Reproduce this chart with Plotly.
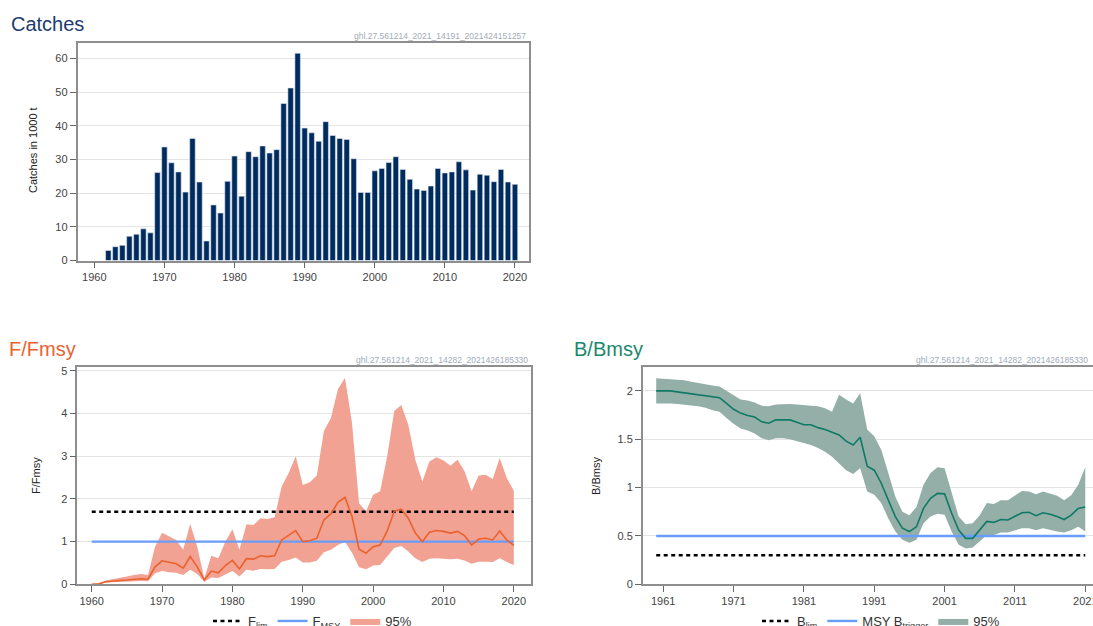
import plotly.graph_objects as go

W, H = 1093, 626

# ---------------- data ----------------
catch_years = list(range(1962, 2021))
catches = [3.0, 4.1, 4.5, 7.2, 7.8, 9.4, 8.2, 26.1, 33.7, 29.0, 26.3, 20.3, 36.2, 23.3,
           5.8, 16.5, 14.1, 23.5, 31.0, 19.1, 32.3, 30.8, 34.0, 31.9, 32.9, 46.6, 51.2,
           61.5, 39.3, 37.9, 35.4, 41.2, 37.1, 36.2, 35.9, 30.2, 20.2, 20.2, 26.6, 27.3,
           29.1, 30.8, 27.0, 24.1, 21.2, 20.8, 22.1, 27.3, 26.0, 26.3, 29.3, 26.9, 20.9,
           25.6, 25.3, 23.4, 27.0, 23.3, 22.6]

f_years = list(range(1960, 2021))
f_median = [0.0, 0.01, 0.06, 0.08, 0.09, 0.10, 0.12, 0.13, 0.12, 0.41,
            0.55, 0.51, 0.48, 0.38, 0.65, 0.41, 0.10, 0.31, 0.27, 0.44,
            0.56, 0.36, 0.60, 0.59, 0.67, 0.65, 0.67, 1.04, 1.16, 1.26,
            1.00, 1.02, 1.08, 1.51, 1.65, 1.92, 2.04, 1.59, 0.82, 0.73,
            0.88, 0.92, 1.25, 1.71, 1.76, 1.55, 1.20, 1.00, 1.22, 1.26,
            1.24, 1.20, 1.24, 1.14, 0.92, 1.06, 1.08, 1.04, 1.25, 1.04, 0.91]
f_upper = [0.0, 0.01, 0.09, 0.12, 0.14, 0.18, 0.22, 0.24, 0.22, 0.88,
           1.21, 1.12, 1.04, 0.81, 1.42, 0.88, 0.14, 0.67, 0.61, 1.00,
           1.29, 0.81, 1.41, 1.39, 1.55, 1.53, 1.57, 2.29, 2.61, 3.00,
           2.33, 2.39, 2.55, 3.59, 3.90, 4.57, 4.84, 3.78, 1.90, 1.71,
           2.10, 2.18, 3.00, 4.06, 4.20, 3.74, 2.92, 2.41, 2.88, 2.98,
           2.90, 2.78, 2.92, 2.65, 2.18, 2.55, 2.57, 2.47, 2.96, 2.49, 2.19]
f_lower = [0.0, 0.0, 0.04, 0.05, 0.055, 0.06, 0.07, 0.08, 0.07, 0.26,
           0.31, 0.28, 0.27, 0.22, 0.34, 0.24, 0.06, 0.16, 0.15, 0.23,
           0.31, 0.18, 0.34, 0.32, 0.36, 0.35, 0.36, 0.53, 0.57, 0.63,
           0.51, 0.51, 0.55, 0.75, 0.81, 0.92, 1.00, 0.74, 0.40, 0.35,
           0.44, 0.45, 0.65, 0.85, 0.90, 0.77, 0.61, 0.52, 0.60, 0.61,
           0.60, 0.59, 0.60, 0.56, 0.48, 0.53, 0.53, 0.52, 0.61, 0.52, 0.45]
f_lim = 1.7
f_msy = 1.0

b_years = list(range(1960, 2022))
b_median = [2.00, 2.00, 2.00, 1.99, 1.98, 1.975, 1.965, 1.95, 1.94, 1.93,
            1.87, 1.81, 1.77, 1.745, 1.73, 1.68, 1.665, 1.70, 1.70, 1.70,
            1.675, 1.65, 1.65, 1.62, 1.60, 1.57, 1.545, 1.48, 1.44, 1.52,
            1.22, 1.18, 1.045, 0.87, 0.70, 0.58, 0.545, 0.595, 0.785, 0.89,
            0.94, 0.935, 0.735, 0.56, 0.475, 0.475, 0.56, 0.65, 0.64, 0.67,
            0.665, 0.70, 0.74, 0.745, 0.71, 0.74, 0.725, 0.70, 0.67, 0.715,
            0.785, 0.80]
b_upper = [2.13, 2.125, 2.12, 2.115, 2.11, 2.095, 2.08, 2.07, 2.055, 2.045,
           2.00, 1.95, 1.91, 1.90, 1.88, 1.845, 1.84, 1.86, 1.865, 1.865,
           1.86, 1.85, 1.845, 1.84, 1.82, 1.785, 1.96, 1.91, 1.87, 1.975,
           1.60, 1.53, 1.39, 1.15, 0.905, 0.75, 0.715, 0.80, 1.03, 1.15,
           1.21, 1.20, 0.94, 0.70, 0.62, 0.63, 0.715, 0.84, 0.83, 0.87,
           0.87, 0.92, 0.965, 0.96, 0.93, 0.96, 0.935, 0.915, 0.87, 0.92,
           1.03, 1.21]
b_lower = [1.87, 1.87, 1.87, 1.865, 1.86, 1.85, 1.84, 1.825, 1.80, 1.785,
           1.72, 1.66, 1.61, 1.59, 1.56, 1.51, 1.49, 1.51, 1.51, 1.50,
           1.48, 1.46, 1.44, 1.41, 1.37, 1.32, 1.25, 1.18, 1.14, 1.20,
           0.96, 0.925, 0.84, 0.68, 0.545, 0.46, 0.43, 0.46, 0.63, 0.70,
           0.73, 0.72, 0.545, 0.41, 0.37, 0.38, 0.44, 0.51, 0.51, 0.535,
           0.535, 0.555, 0.58, 0.58, 0.56, 0.58, 0.56, 0.545, 0.535, 0.56,
           0.595, 0.545]
b_lim = 0.3
msy_btrigger = 0.5

catch_xticks = [1960, 1970, 1980, 1990, 2000, 2010, 2020]
catch_yticks = [0, 10, 20, 30, 40, 50, 60]
f_xticks = [1960, 1970, 1980, 1990, 2000, 2010, 2020]
f_yticks = [0, 1, 2, 3, 4, 5]
b_xticks = [1961, 1971, 1981, 1991, 2001, 2011, 2021]
b_yticks = [0, 0.5, 1, 1.5, 2]
b_ytext = ["0", "0.5", "1", "1.5", "2"]

# ---------------- style ----------------
FONT = "Liberation Sans, Arial, sans-serif"
NAVY = "#002b5f"
F_COL = "#e9622e"
F_BAND = "#f2a293"
B_COL = "#0f7a66"
B_BAND = "#93afa8"
MSY_BLUE = "#689dfa"
BOX = "#8e8e8e"
GRID = "#e4e4e4"


def px(x):
    return x / W


def py(y):
    return 1 - y / H


fig = go.Figure()

# Catches
fig.add_trace(go.Bar(x=catch_years, y=catches, width=0.78,
                     marker=dict(color=NAVY, line=dict(color="#dde4ec", width=0.6)),
                     xaxis="x", yaxis="y", showlegend=False, hoverinfo="x+y"))

# F/Fmsy
fig.add_trace(go.Scatter(x=f_years + f_years[::-1], y=f_upper + f_lower[::-1],
                         fill="toself", fillcolor=F_BAND, line=dict(width=0, color=F_BAND),
                         mode="lines", name="95%", legend="legend", legendrank=3,
                         xaxis="x2", yaxis="y2"))
fig.add_trace(go.Scatter(x=[f_years[0], f_years[-1]], y=[f_lim, f_lim], mode="lines",
                         line=dict(color="black", width=2.6, dash="4px,3.5px"),
                         name="F<sub>lim</sub>", legend="legend", legendrank=1,
                         xaxis="x2", yaxis="y2"))
fig.add_trace(go.Scatter(x=[f_years[0], f_years[-1]], y=[f_msy, f_msy], mode="lines",
                         line=dict(color=MSY_BLUE, width=2.4),
                         name="F<sub>MSY</sub>", legend="legend", legendrank=2,
                         xaxis="x2", yaxis="y2"))
fig.add_trace(go.Scatter(x=f_years, y=f_median, mode="lines",
                         line=dict(color=F_COL, width=1.6), showlegend=False,
                         xaxis="x2", yaxis="y2"))

# B/Bmsy
fig.add_trace(go.Scatter(x=b_years + b_years[::-1], y=b_upper + b_lower[::-1],
                         fill="toself", fillcolor=B_BAND, line=dict(width=0, color=B_BAND),
                         mode="lines", name="95%", legend="legend2", legendrank=3,
                         xaxis="x3", yaxis="y3"))
fig.add_trace(go.Scatter(x=[b_years[0], b_years[-1]], y=[b_lim, b_lim], mode="lines",
                         line=dict(color="black", width=2.6, dash="4px,3.5px"),
                         name="B<sub>lim</sub>", legend="legend2", legendrank=1,
                         xaxis="x3", yaxis="y3"))
fig.add_trace(go.Scatter(x=[b_years[0], b_years[-1]], y=[msy_btrigger, msy_btrigger],
                         mode="lines", line=dict(color=MSY_BLUE, width=2.4),
                         name="MSY B<sub>trigger</sub>", legend="legend2", legendrank=2,
                         xaxis="x3", yaxis="y3"))
fig.add_trace(go.Scatter(x=b_years, y=b_median, mode="lines",
                         line=dict(color=B_COL, width=1.6), showlegend=False,
                         xaxis="x3", yaxis="y3"))


def xax(domain, rng, ticks, anchor, mirror=True):
    return dict(domain=domain, range=rng, tickmode="array", tickvals=ticks,
                ticks="outside", ticklen=6, tickcolor="#666", tickwidth=1,
                showline=True, linecolor=BOX, linewidth=1.5, mirror=mirror,
                showgrid=False, zeroline=False, anchor=anchor,
                ticklabeloverflow="allow",
                tickfont=dict(size=11, color="#444", family=FONT), fixedrange=True)


def yax(domain, rng, ticks, anchor, text=None, mirror=True):
    d = dict(domain=domain, range=rng, tickmode="array", tickvals=ticks,
             ticks="outside", ticklen=6, tickcolor="#666", tickwidth=1,
             showline=True, linecolor=BOX, linewidth=1.5, mirror=mirror,
             showgrid=True, gridcolor=GRID, gridwidth=1, zeroline=False,
             anchor=anchor, tickfont=dict(size=11, color="#444", family=FONT),
             fixedrange=True)
    if text is not None:
        d["ticktext"] = text
    return d


top_dom = [py(260.5), py(42.5)]
bot_dom = [py(584.3), py(366.7)]

fig.update_layout(
    width=W, height=H,
    margin=dict(l=0, r=0, t=0, b=0, autoexpand=False),
    paper_bgcolor="white", plot_bgcolor="white",
    font=dict(family=FONT, color="#333"),
    xaxis=xax([px(77.5), px(529)], [1957.6, 2022.0], catch_xticks, "y"),
    yaxis=yax(top_dom, [0, 64.7], catch_yticks, "x"),
    xaxis2=xax([px(77.3), px(530.7)], [1957.95, 2022.4], f_xticks, "y2"),
    yaxis2=yax(bot_dom, [0, 5.1], f_yticks, "x2"),
    xaxis3=xax([px(642.7), 1.0], [1958.08, 2022.1], b_xticks, "y3"),
    yaxis3=yax(bot_dom, [0, 2.25], b_yticks, "x3", text=b_ytext, mirror=False),
    bargap=0.2,
    legend=dict(orientation="h", x=px(208), y=py(621), xanchor="left", yanchor="middle",
                font=dict(size=13, color="#333", family=FONT), bgcolor="rgba(0,0,0,0)",
                itemwidth=30, traceorder="normal"),
    legend2=dict(orientation="h", x=px(757), y=py(621), xanchor="left", yanchor="middle",
                 font=dict(size=13, color="#333", family=FONT), bgcolor="rgba(0,0,0,0)",
                 itemwidth=30, traceorder="normal"),
    showlegend=True,
)

annotations = [
    dict(text="Catches", x=px(9), y=py(24), xanchor="left", yanchor="middle",
         font=dict(size=20, color="#1d3b6c", family=FONT)),
    dict(text="F/Fmsy", x=px(7), y=py(349), xanchor="left", yanchor="middle",
         font=dict(size=20, color=F_COL, family=FONT)),
    dict(text="B/Bmsy", x=px(572), y=py(349), xanchor="left", yanchor="middle",
         font=dict(size=20, color="#1a876d", family=FONT)),
    dict(text="ghl.27.561214_2021_14191_2021424151257", x=px(528), y=py(36),
         xanchor="right", yanchor="middle", font=dict(size=8.5, color="#a2abb8", family=FONT)),
    dict(text="ghl.27.561214_2021_14282_2021426185330", x=px(530), y=py(360),
         xanchor="right", yanchor="middle", font=dict(size=8.5, color="#a2abb8", family=FONT)),
    dict(text="ghl.27.561214_2021_14282_2021426185330", x=px(1090), y=py(360),
         xanchor="right", yanchor="middle", font=dict(size=8.5, color="#a2abb8", family=FONT)),
    dict(text="Catches in 1000 t", x=px(33), y=py(150), textangle=-90,
         xanchor="center", yanchor="middle", font=dict(size=11, color="#222", family=FONT)),
    dict(text="F/Fmsy", x=px(36), y=py(476), textangle=-90,
         xanchor="center", yanchor="middle", font=dict(size=11, color="#222", family=FONT)),
    dict(text="B/Bmsy", x=px(596), y=py(476), textangle=-90,
         xanchor="center", yanchor="middle", font=dict(size=11, color="#222", family=FONT)),
]
for a in annotations:
    a.update(xref="paper", yref="paper", showarrow=False)
fig.update_layout(annotations=annotations)

fig.write_html("out.html",
               config={"displayModeBar": False},
               post_script="document.body.style.margin='0';document.body.style.overflow='hidden';")
